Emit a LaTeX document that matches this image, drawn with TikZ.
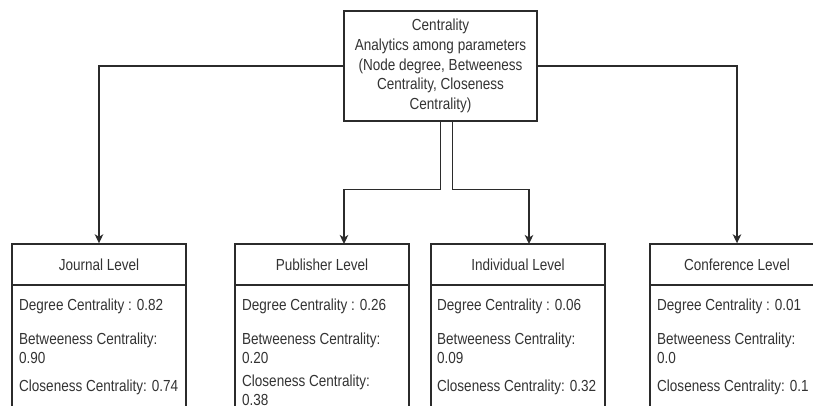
\documentclass[tikz,border=0pt]{standalone}
\usepackage{fontspec}
\setmainfont{Liberation Sans}[FakeStretch=0.845]
\usetikzlibrary{arrows.meta}
\definecolor{ink}{HTML}{2B2B2B}
\definecolor{txt}{HTML}{333333}
\tikzset{
  box/.style={draw=ink, line width=1.4pt, fill=white, rectangle, inner sep=0pt},
  topbox/.style={box, minimum width=193pt, minimum height=110pt, align=center,
    font=\fontsize{16}{19.7}\selectfont, text=txt},
  hdr/.style={box, minimum width=174pt, minimum height=41pt,
    font=\fontsize{16}{18.5}\selectfont, text=txt},
  item/.style={anchor=west, inner sep=0pt, align=left,
    font=\fontsize{16}{18.5}\selectfont, text=txt},
  arr/.style={draw=ink, line width=1.4pt,
    -{Stealth[length=9pt,width=8.5pt,inset=2.5pt]}},
}
\begin{document}
\begin{tikzpicture}[x=1pt,y=-1pt]
\clip (0,0) rectangle (813,405);
\fill[white] (0,0) rectangle (813,405);

% top node
\node[topbox] (top) at (440.5,66) {Centrality\\Analytics among parameters\\(Node degree, Betweeness\\Centrality, Closeness\\Centrality)};

% level boxes (bodies run past the lower edge)
\foreach \cx in {99,322,518,737}{
  \draw[draw=ink, line width=1.4pt, fill=white] (\cx-87,244) rectangle (\cx+87,430);
}
\node[hdr] (jh) at (99,264.5) {Journal Level};
\node[hdr] (ph) at (322,264.5) {Publisher Level};
\node[hdr] (ih) at (518,264.5) {Individual Level};
\node[hdr] (ch) at (737,264.5) {Conference Level};

% items
\node[item] (j1) at (19,306) {Degree Centrality : 0.82};
\node[item] (j2) at (19,348.5) {Betweeness Centrality:\\0.90};
\node[item] (j3) at (19,387) {Closeness Centrality: 0.74};

\node[item] (p1) at (242,306) {Degree Centrality : 0.26};
\node[item] (p2) at (242,348.5) {Betweeness Centrality:\\0.20};
\node[item] (p3) at (242,390.5) {Closeness Centrality:\\0.38};

\node[item] (i1) at (437,306) {Degree Centrality : 0.06};
\node[item] (i2) at (437,348.5) {Betweeness Centrality:\\0.09};
\node[item] (i3) at (437,387) {Closeness Centrality: 0.32};

\node[item] (c1) at (657,306) {Degree Centrality : 0.01};
\node[item] (c2) at (657,348.5) {Betweeness Centrality:\\0.0};
\node[item] (c3) at (657,387) {Closeness Centrality: 0.1};

% connectors
\coordinate (pin) at (344,244);
\coordinate (iin) at (529,244);
\draw[arr] (top.west) -| (jh.north);
\draw[arr] (top.east) -| (ch.north);
\draw[arr] (top.south) -- ++(0,68) -| (pin);
\draw[arr] ([xshift=12pt]top.south) -- ++(0,68) -| (iin);
\end{tikzpicture}
\end{document}
